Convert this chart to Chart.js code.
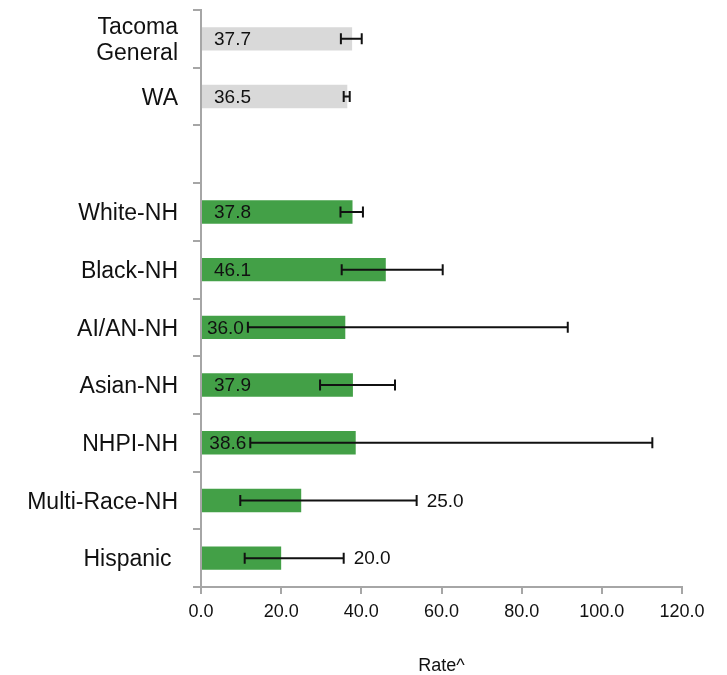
<!DOCTYPE html>
<html>
<head>
<meta charset="utf-8">
<script src="https://cdn.jsdelivr.net/npm/chart.js@4/dist/chart.umd.min.js"></script>
<style>
  html, body { margin: 0; padding: 0; background: #ffffff; }
  #chart { display: block; }
</style>
</head>
<body>
<canvas id="chart" width="727" height="675"></canvas>
<script>
// Age-adjusted rates by group, with 95% confidence limits
const categories = [['Tacoma', 'General'], 'WA', '', 'White-NH', 'Black-NH', 'AI/AN-NH', 'Asian-NH', 'NHPI-NH', 'Multi-Race-NH', 'Hispanic '];
const rates   = [37.7, 36.5, null, 37.8, 46.1, 36.0, 37.9, 38.6, 25.0, 20.0];
const ciLower = [34.9, 35.6, null, 34.8, 35.1, 11.7, 29.7, 12.3, 9.8, 10.9];
const ciUpper = [40.1, 37.1, null, 40.4, 60.3, 91.5, 48.4, 112.6, 53.8, 35.6];
const rateTicks = [0, 20, 40, 60, 80, 100, 120];

const FONT = '"Liberation Sans", Arial, Helvetica, sans-serif';
const BENCHMARK_ROWS = 2;           // hospital and state rows are shown in grey
const GREY = '#d9d9d9';
const GREEN = '#43a047';
const AXIS = '#a6a6a6';

// Draws confidence-interval whiskers and the value labels
const errorBarsAndLabels = {
  id: 'errorBarsAndLabels',
  afterDatasetsDraw(chart) {
    const ctx = chart.ctx;
    const xs = chart.scales.x;
    const meta = chart.getDatasetMeta(0);
    ctx.save();
    ctx.font = '19px ' + FONT;
    ctx.textBaseline = 'middle';
    meta.data.forEach((bar, i) => {
      if (rates[i] == null) return;
      const y = bar.y;
      const xl = xs.getPixelForValue(ciLower[i]);
      const xu = xs.getPixelForValue(ciUpper[i]);
      // whisker
      ctx.strokeStyle = '#111111';
      ctx.lineWidth = 2;
      ctx.beginPath();
      ctx.moveTo(xl, y); ctx.lineTo(xu, y);
      ctx.moveTo(xl, y - 5.5); ctx.lineTo(xl, y + 5.5);
      ctx.moveTo(xu, y - 5.5); ctx.lineTo(xu, y + 5.5);
      ctx.stroke();
      // value label: inside the bar base when it fits before the whisker, else past the whisker
      const text = rates[i].toFixed(1);
      const w = ctx.measureText(text).width;
      const base = xs.getPixelForValue(0);
      let tx = Math.min(base + 13, xl - 4 - w);
      if (tx < base + 5) tx = xu + 10;
      ctx.fillStyle = '#111111';
      ctx.textAlign = 'left';
      ctx.fillText(text, tx, y + 1);
    });
    ctx.restore();
  }
};

new Chart(document.getElementById('chart'), {
  type: 'bar',
  data: {
    labels: categories,
    datasets: [{
      data: rates,
      backgroundColor: (c) => c.dataIndex < BENCHMARK_ROWS ? GREY : GREEN,
      borderWidth: 0,
      barPercentage: 0.405,
      categoryPercentage: 1.0
    }]
  },
  options: {
    indexAxis: 'y',
    responsive: false,
    animation: false,
    devicePixelRatio: 1,
    layout: { padding: { top: 10, right: 45, bottom: 0, left: 0 } },
    plugins: {
      legend: { display: false },
      tooltip: { enabled: false }
    },
    scales: {
      x: {
        type: 'linear',
        min: rateTicks[0],
        max: rateTicks[rateTicks.length - 1],
        afterBuildTicks: (s) => { s.ticks = rateTicks.map(v => ({ value: v })); },
        afterFit: (s) => { s.height = 88; },
        ticks: {
          callback: (v) => Number(v).toFixed(1),
          font: { family: FONT, size: 18 },
          color: '#111111',
          padding: 7,
          maxRotation: 0
        },
        grid: { display: true, drawOnChartArea: false, drawTicks: true, tickLength: 7, color: AXIS, lineWidth: 2 },
        border: { display: true, color: AXIS, width: 2 },
        title: {
          display: true,
          text: 'Rate^',
          font: { family: FONT, size: 18 },
          color: '#111111',
          padding: { top: 0, bottom: -2 }
        }
      },
      y: {
        type: 'category',
        afterFit: (s) => { s.width = 201; s.paddingTop = 0; s.paddingBottom = 0; },
        ticks: {
          font: { family: FONT, size: 23, lineHeight: 1.15 },
          color: '#111111',
          padding: 15,
          labelOffset: 2,
          autoSkip: false
        },
        grid: { display: true, offset: true, drawOnChartArea: false, drawTicks: true, tickLength: 8, color: AXIS, lineWidth: 2 },
        border: { display: true, color: AXIS, width: 2 }
      }
    }
  },
  plugins: [errorBarsAndLabels]
});
</script>
</body>
</html>
